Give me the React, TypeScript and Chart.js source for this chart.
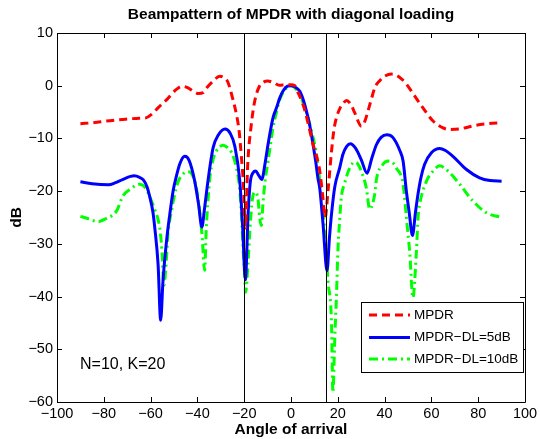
import React, { useEffect, useRef } from "react";
import { Chart, registerables } from "chart.js";

Chart.register(...registerables);

const FONT = '"Liberation Sans", Arial, Helvetica, sans-serif';

const xTickValues = [-100, -80, -60, -40, -20, 0, 20, 40, 60, 80, 100];
const yTickValues = [-60, -50, -40, -30, -20, -10, 0, 10];
const markerAngles = [-20, 15];

const titleText = "Beampattern of MPDR with diagonal loading";
const xTitle = "Angle of arrival";
const yTitle = "dB";
const noteText = "N=10, K=20";
const seriesNames = ["MPDR", "MPDR\u2212DL=5dB", "MPDR\u2212DL=10dB"];

const mpdrAngles = [-90, -84, -79, -72, -66, -62, -59.5, -57.5, -55, -53, -51, -49, -46.5, -44, -42, -39.5, -37.5, -36, -33.3, -30.5, -28.5, -27, -25, -23.3, -22.2, -21.2, -20.3, -19.5, -18.5, -17, -15.5, -13.5, -12, -10, -7.5, -5, -2, 0, 1.6, 3, 4.5, 6, 7.5, 9.4, 11, 12.3, 13.7, 14.6, 15.8, 17.3, 18.3, 19.4, 21, 22.2, 23.7, 25.5, 27.2, 30.1, 31.5, 32.9, 34.5, 35.8, 38, 40, 43, 45, 47.2, 49, 52, 56.4, 60.7, 65, 67.5, 72, 79, 84, 90];
const mpdrDb = [-7.2, -7.0, -6.7, -6.4, -6.2, -6.1, -5.4, -4.5, -3.4, -2.6, -1.6, -0.7, -0.1, -0.4, -1.0, -1.5, -1.3, -0.4, 0.85, 1.8, 1.5, 0.7, -2.3, -5.5, -8.5, -13.5, -19, -27, -15, -7.5, -2.9, -0.1, 0.6, 0.9, 0.6, 0.1, 0.2, 0.2, 0, -1.3, -2.8, -4.8, -7.5, -11.1, -13.5, -16.2, -21.5, -25, -20, -12.5, -8.5, -6.1, -4.2, -3.4, -2.8, -3.5, -5.1, -7.7, -6.8, -4.8, -2.3, -0.4, 1.0, 1.8, 2.2, 2.0, 1.3, 0.5, -1.4, -4.2, -6.7, -8.0, -8.3, -8.2, -7.5, -7.2, -7.0];

const dl5Angles = [-90, -85, -78, -75, -72, -67, -64.7, -63, -61.5, -60.4, -59, -58.2, -56.8, -55.7, -54.7, -53.2, -51.8, -50.4, -49, -47.5, -45.4, -43.5, -41.2, -39.5, -38.1, -36.9, -35.5, -33.3, -31, -28.2, -26, -24, -21.9, -20.7, -19.5, -18.3, -17.4, -16.2, -15.1, -13.8, -12.5, -11, -9.8, -7.7, -6.2, -4.8, -3.4, -1.5, 0, 1.5, 3.7, 5.2, 6.6, 8, 9.4, 10.6, 11.5, 12.3, 13.7, 15.4, 16.4, 17.3, 18.7, 20.8, 22.2, 23.8, 25.4, 27.5, 30, 32.5, 34.5, 36.5, 38.5, 41, 43.5, 46.5, 47.9, 49.3, 50.5, 51.9, 53.2, 54.3, 55.5, 57.1, 60, 63.5, 66, 69.2, 75, 80.6, 85, 90];
const dl5Db = [-18.2, -18.6, -18.8, -18.4, -17.8, -17.1, -17.4, -17.9, -19.2, -21, -24, -27, -33.9, -44.5, -37, -29.5, -24.4, -20, -17.2, -14.8, -13.4, -14.2, -18, -22.5, -26.8, -23.1, -18.1, -11.8, -9.3, -8.2, -9.0, -11.5, -18, -26.5, -36.8, -24, -18.3, -16.5, -16.2, -17, -17.8, -14.5, -11.1, -6.1, -4.2, -2.3, -1.0, -0.1, 0, -0.2, -1.0, -2.6, -4.8, -7.5, -11.1, -14.5, -17.5, -19.5, -26.3, -35.1, -29, -24.4, -19.2, -15.6, -13, -11.5, -11.0, -11.8, -14, -16.6, -13.8, -11.2, -9.8, -9.3, -9.8, -12.3, -14.3, -20, -24, -28.4, -24, -20.5, -17.5, -14.9, -12.7, -11.9, -12.3, -13.4, -15.9, -17.5, -18.0, -18.1];

const dl10Angles = [-90, -86, -82.5, -79, -74.6, -71.8, -68.9, -64.7, -62.5, -61.1, -59.5, -58.2, -56.1, -55.2, -54.3, -53.2, -52.6, -51.1, -49.7, -48.3, -46.5, -44, -42.6, -40.4, -39, -38, -36.9, -36.2, -35.5, -34.7, -33.3, -31.9, -29, -27, -25.5, -23.3, -21.9, -21.2, -20.5, -19.8, -19.4, -18.4, -17.6, -16.5, -15.5, -14.1, -13.4, -12.7, -12, -11.2, -9.8, -7.7, -6.2, -4.8, -2.5, 0, 1.5, 3.7, 5.5, 7.3, 8.7, 10.1, 11.2, 12.3, 13.5, 14.8, 15.8, 17.3, 17.9, 18.7, 19.4, 20.1, 20.8, 21.5, 22.9, 25.1, 27.2, 28.5, 30.1, 32.2, 33.6, 34.8, 35.8, 36.5, 39.3, 41.5, 43.5, 45, 47.9, 49.3, 50.7, 52.1, 53.6, 54.3, 55, 57.9, 60.7, 63.5, 67.8, 72.1, 77.8, 83.5, 90];
const dl10Db = [-24.8, -25.3, -25.8, -25.2, -23.8, -20.9, -19.7, -18.7, -19.2, -20.3, -22, -23.5, -27, -31, -37.8, -32.6, -28.2, -23.8, -20.6, -18.3, -16.9, -16.3, -16.6, -19.5, -24, -28.5, -35, -27, -22, -17.5, -14, -12.4, -11.3, -11.8, -12.6, -15.6, -19.8, -24.4, -30.7, -35.8, -39.2, -33.9, -27.6, -21.5, -20.2, -21.5, -25, -26.5, -22.5, -18.5, -14.3, -8, -5, -2.6, -0.7, 0, -0.3, -1.7, -3.6, -6.1, -8.5, -11.1, -14, -18.1, -23, -30, -37, -45, -58.2, -48, -40.2, -30.7, -25.5, -21.2, -18.5, -15.6, -14.5, -14.8, -16.3, -19.4, -23.4, -22.5, -20.5, -17.8, -14.9, -14.3, -14.6, -15.6, -18.7, -25, -31.4, -40.2, -31.4, -25, -22.5, -18.1, -16.2, -15.2, -16.5, -18.7, -21.9, -24.1, -25];

const toPoints = (a: number[], v: number[]) => a.map((x, i) => ({ x, y: v[i] }));
const fmt = (v: number) => (v < 0 ? "\u2212" + Math.abs(v) : String(v));

const RED = "#ff0000";
const BLUE = "#0000ff";
const GREEN = "#00ff00";
const redDash = [8, 5];
const greenDash = [9, 4, 2, 4];

export default function App() {
  const ref = useRef<HTMLCanvasElement>(null);

  useEffect(() => {
    const canvas = ref.current;
    if (!canvas) return;

    const framePlugin = {
      id: "matlabFrame",
      afterDatasetsDraw(chart: any) {
        const ctx = chart.ctx as CanvasRenderingContext2D;
        const { left, right, top, bottom } = chart.chartArea;
        const xs = chart.scales.x;
        const ys = chart.scales.y;
        ctx.save();
        ctx.strokeStyle = "#000";
        ctx.lineWidth = 1;
        ctx.setLineDash([]);
        markerAngles.forEach((a) => {
          const px = Math.round(xs.getPixelForValue(a)) + 0.5;
          ctx.beginPath();
          ctx.moveTo(px, top);
          ctx.lineTo(px, bottom);
          ctx.stroke();
        });
        ctx.beginPath();
        ctx.rect(Math.round(left) + 0.5, Math.round(top) + 0.5, Math.round(right - left), Math.round(bottom - top));
        ctx.stroke();
        const tl = 5;
        xTickValues.forEach((v) => {
          const px = Math.round(xs.getPixelForValue(v)) + 0.5;
          ctx.beginPath();
          ctx.moveTo(px, bottom);
          ctx.lineTo(px, bottom - tl);
          ctx.moveTo(px, top);
          ctx.lineTo(px, top + tl);
          ctx.stroke();
        });
        yTickValues.forEach((v) => {
          const py = Math.round(ys.getPixelForValue(v)) + 0.5;
          ctx.beginPath();
          ctx.moveTo(left, py);
          ctx.lineTo(left + tl, py);
          ctx.moveTo(right, py);
          ctx.lineTo(right - tl, py);
          ctx.stroke();
        });

        ctx.fillStyle = "#000";
        ctx.textAlign = "center";
        ctx.textBaseline = "middle";
        ctx.font = `bold 15.5px ${FONT}`;
        ctx.fillText(titleText, (left + right) / 2, 15);
        ctx.font = `bold 15.5px ${FONT}`;
        ctx.fillText(xTitle, (left + right) / 2, 430);
        ctx.save();
        ctx.translate(17, (top + bottom) / 2);
        ctx.rotate(-Math.PI / 2);
        ctx.fillText(yTitle, 0, 0);
        ctx.restore();

        ctx.textAlign = "left";
        ctx.font = `16px ${FONT}`;
        ctx.fillText(noteText, 80, 365);

        const lx0 = 361, ly0 = 302, lx1 = 523, ly1 = 372;
        ctx.fillStyle = "#fff";
        ctx.fillRect(lx0, ly0, lx1 - lx0, ly1 - ly0);
        ctx.strokeStyle = "#000";
        ctx.lineWidth = 1;
        ctx.strokeRect(lx0 + 0.5, ly0 + 0.5, lx1 - lx0, ly1 - ly0);
        const rows = [315, 337.5, 359];
        const styles = [
          { c: RED, d: redDash },
          { c: BLUE, d: [] as number[] },
          { c: GREEN, d: greenDash },
        ];
        rows.forEach((ry, i) => {
          ctx.strokeStyle = styles[i].c;
          ctx.lineWidth = 3;
          ctx.setLineDash(styles[i].d);
          ctx.beginPath();
          ctx.moveTo(369, ry);
          ctx.lineTo(410, ry);
          ctx.stroke();
          ctx.setLineDash([]);
          ctx.fillStyle = "#000";
          ctx.font = `13.5px ${FONT}`;
          ctx.textAlign = "left";
          ctx.textBaseline = "middle";
          ctx.fillText(seriesNames[i], 414, ry);
        });
        ctx.restore();
      },
    };

    const tickFont = { family: FONT, size: 14.5 };

    const chart = new Chart(canvas, {
      type: "line",
      data: {
        datasets: [
          {
            label: seriesNames[0],
            data: toPoints(mpdrAngles, mpdrDb),
            borderColor: RED,
            borderWidth: 3,
            borderDash: redDash,
            pointRadius: 0,
            fill: false,
            cubicInterpolationMode: "monotone",
          },
          {
            label: seriesNames[1],
            data: toPoints(dl5Angles, dl5Db),
            borderColor: BLUE,
            borderWidth: 3,
            pointRadius: 0,
            fill: false,
            cubicInterpolationMode: "monotone",
          },
          {
            label: seriesNames[2],
            data: toPoints(dl10Angles, dl10Db),
            borderColor: GREEN,
            borderWidth: 3,
            borderDash: greenDash,
            pointRadius: 0,
            fill: false,
            cubicInterpolationMode: "monotone",
          },
        ],
      },
      options: {
        animation: false,
        responsive: false,
        maintainAspectRatio: false,
        layout: { padding: { top: 33, right: 15, left: 0, bottom: 0 } },
        plugins: {
          legend: { display: false },
          title: { display: false },
          tooltip: { enabled: false },
        },
        scales: {
          x: {
            type: "linear",
            min: -100,
            max: 100,
            grid: { display: false, drawTicks: false },
            border: { display: false },
            ticks: {
              color: "#000",
              font: tickFont,
              padding: 3,
              maxRotation: 0,
              autoSkip: false,
              callback: (v: any) => fmt(Number(v)),
            },
            afterBuildTicks: (s: any) => {
              s.ticks = xTickValues.map((value) => ({ value }));
            },
            afterFit: (s: any) => {
              s.height = 37;
              s.paddingLeft = 0;
              s.paddingRight = 0;
            },
          },
          y: {
            type: "linear",
            min: -60,
            max: 10,
            grid: { display: false, drawTicks: false },
            border: { display: false },
            ticks: {
              color: "#000",
              font: tickFont,
              padding: 4,
              autoSkip: false,
              callback: (v: any) => fmt(Number(v)),
            },
            afterBuildTicks: (s: any) => {
              s.ticks = yTickValues.map((value) => ({ value }));
            },
            afterFit: (s: any) => {
              s.width = 57;
              s.paddingTop = 0;
              s.paddingBottom = 0;
            },
          },
        },
      },
      plugins: [framePlugin],
    } as any);

    return () => chart.destroy();
  }, []);

  return (
    <div style={{ position: "fixed", left: 0, top: 0, width: 540, height: 439, background: "#fff" }}>
      <canvas ref={ref} width={540} height={439} style={{ display: "block", width: 540, height: 439 }} />
    </div>
  );
}
